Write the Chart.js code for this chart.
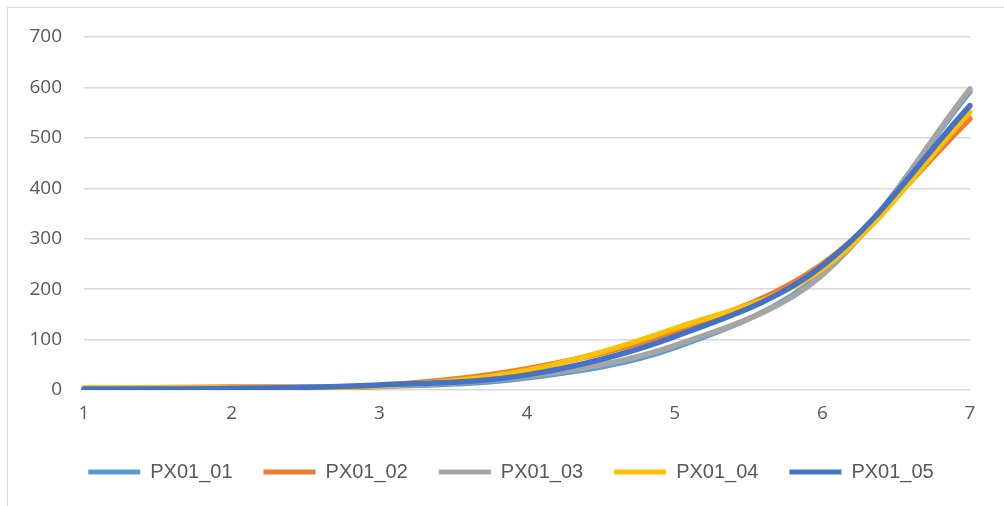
<!DOCTYPE html>
<html>
<head>
<meta charset="utf-8">
<script src="https://cdn.jsdelivr.net/npm/chart.js@4"></script>
<style>
    body { margin: 0; background: #fff; }
    #wrap { position: relative; width: 1004px; height: 506px; }
    #frame { position: absolute; left: 7px; top: 7px; width: 1010px; height: 510px; border: 1px solid #d9d9d9; box-sizing: border-box; }
    canvas { position: absolute; left: 0; top: 0; }
</style>
</head>
<body>
<div id="wrap">
    <div id="frame"></div>
    <canvas id="chart" width="1004" height="506"></canvas>
</div>
<script>
const categories = ['1', '2', '3', '4', '5', '6', '7'];
const seriesNames = ['PX01_01', 'PX01_02', 'PX01_03', 'PX01_04', 'PX01_05'];
const px01_01 = [2, 3, 7, 24, 84, 232, 592];
const px01_02 = [3, 6, 9, 42, 116, 250, 538];
const px01_03 = [2, 4, 8, 27, 88, 228, 597];
const px01_04 = [4, 4, 8, 39, 122, 240, 551];
const px01_05 = [2, 3, 10, 30, 106, 246, 564];
const colors = ['#5B9BD5', '#ED7D31', '#A5A5A5', '#FFC000', '#4472C4'];

const allSeries = [px01_01, px01_02, px01_03, px01_04, px01_05];
const tickFont = { family: '"Open Sans", "Liberation Sans", sans-serif', size: 19 };
const legendFont = { family: '"Liberation Sans", Arial, sans-serif', size: 20 };

const datasets = allSeries.map((values, i) => ({
    label: seriesNames[i],
    data: values,
    borderColor: colors[i],
    backgroundColor: colors[i],
    borderWidth: 5.5,
    borderCapStyle: 'round',
    borderJoinStyle: 'round',
    pointRadius: 0,
    tension: 0.35,
    fill: false,
    order: allSeries.length - i // last series drawn on top
}));

// the legend in the original sits a bit right of the plot centre
const legendShift = {
    id: 'legendShift',
    afterLayout(chart) {
        chart.legend.left += 26;
        chart.legend.right += 26;
    }
};

new Chart(document.getElementById('chart'), {
    type: 'line',
    data: { labels: categories, datasets: datasets },
    plugins: [legendShift],
    options: {
        responsive: false,
        animation: false,
        layout: { padding: { top: 37, right: 34, bottom: 14, left: 0 } },
        plugins: {
            tooltip: { enabled: false },
            legend: {
                position: 'bottom',
                labels: {
                    font: legendFont,
                    color: '#595959',
                    boxWidth: 52,
                    boxHeight: 5,
                    padding: 31,
                    useBorderRadius: true,
                    borderRadius: 2.5,
                    generateLabels: (chart) => chart.data.datasets.map((ds, i) => ({
                        text: ds.label,
                        fillStyle: ds.borderColor,
                        strokeStyle: ds.borderColor,
                        lineWidth: 0,
                        fontColor: '#595959',
                        datasetIndex: i
                    }))
                }
            }
        },
        scales: {
            x: {
                offset: false,
                afterFit: (scale) => { scale.height = 41; },
                grid: { display: false, drawTicks: false },
                border: { display: false },
                ticks: { font: tickFont, color: '#595959', padding: 12, maxRotation: 0 }
            },
            y: {
                min: 0,
                max: 700,
                afterFit: (scale) => { scale.width = 84; },
                grid: { color: '#d9d9d9', lineWidth: 1.5, drawTicks: false },
                border: { display: false },
                ticks: { stepSize: 100, font: tickFont, color: '#595959', padding: 22 }
            }
        }
    }
});
</script>
</body>
</html>
